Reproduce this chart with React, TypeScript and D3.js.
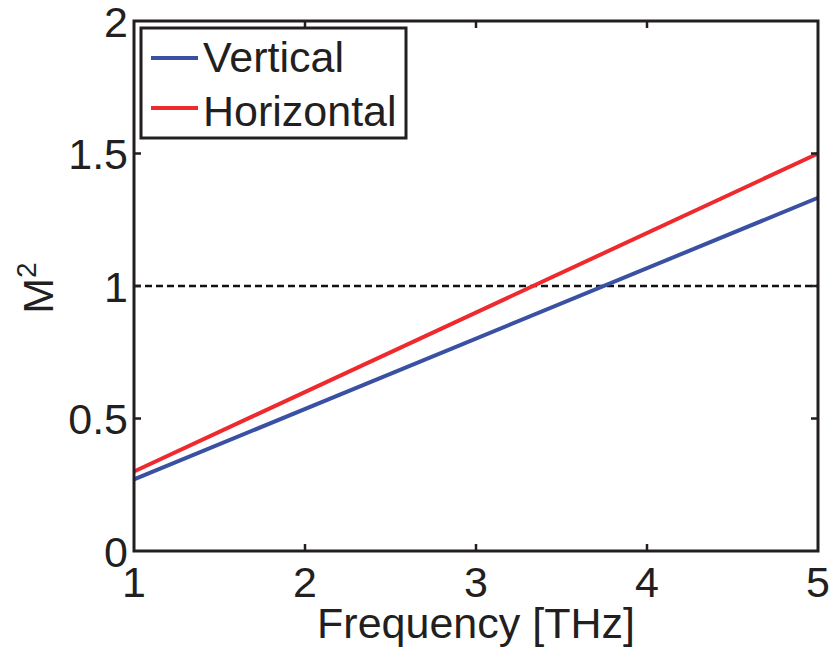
import React from "react";
import * as d3 from "d3";

const freq = [1, 5];
const vertical = [0.27, 1.333];
const horizontal = [0.3, 1.5];
const xTicks = [1, 2, 3, 4, 5];
const yTicks = [0, 0.5, 1, 1.5, 2];
const yTickLabels = ["0", "0.5", "1", "1.5", "2"];
const seriesNames = ["Vertical", "Horizontal"];
const seriesColors = ["#3a51a3", "#ee2a2e"];

const W = 829, H = 648;
const L = 134, R = 818, T = 21, B = 551;
const FONT = "'Liberation Sans', Arial, Helvetica, sans-serif";
const FS = 43;

export default function App() {
  const x = d3.scaleLinear().domain([1, 5]).range([L, R]);
  const y = d3.scaleLinear().domain([0, 2]).range([B, T]);
  const line = d3.line<[number, number]>().x(d => x(d[0])).y(d => y(d[1]));
  const series = [vertical, horizontal];
  const tl = 7;
  return (
    <svg width={W} height={H} style={{ position: "absolute", left: 0, top: 0, background: "#fff" }} fontFamily={FONT}>
      <rect x={0} y={0} width={W} height={H} fill="#fff" />
      <line x1={x(1)} x2={x(5)} y1={y(1)} y2={y(1)} stroke="#111" strokeWidth={2.5} strokeDasharray="7,4" />
      {series.map((s, i) => (
        <path key={i} d={line(freq.map((f, j) => [f, s[j]]) as [number, number][]) || ""} fill="none" stroke={seriesColors[i]} strokeWidth={4} />
      ))}
      {xTicks.slice(1, -1).map(t => (
        <g key={"xt" + t}>
          <line x1={x(t)} x2={x(t)} y1={B} y2={B - tl} stroke="#231f20" strokeWidth={2.5} />
          <line x1={x(t)} x2={x(t)} y1={T} y2={T + tl} stroke="#231f20" strokeWidth={2.5} />
        </g>
      ))}
      {yTicks.slice(1, -1).map(t => (
        <g key={"yt" + t}>
          <line x1={L} x2={L + tl} y1={y(t)} y2={y(t)} stroke="#231f20" strokeWidth={2.5} />
          <line x1={R} x2={R - tl} y1={y(t)} y2={y(t)} stroke="#231f20" strokeWidth={2.5} />
        </g>
      ))}
      <rect x={L} y={T} width={R - L} height={B - T} fill="none" stroke="#231f20" strokeWidth={3} />
      {xTicks.map(t => (
        <text key={"xl" + t} x={x(t)} y={597} textAnchor="middle" fontSize={FS} fill="#231f20">{t}</text>
      ))}
      {yTicks.map((t, i) => (
        <text key={"yl" + t} x={128} y={y(t) + 15.5} textAnchor="end" fontSize={FS} fill="#231f20">{yTickLabels[i]}</text>
      ))}
      <text x={476} y={638} textAnchor="middle" fontSize={FS} fill="#231f20">Frequency [THz]</text>
      <text transform="translate(53,288) rotate(-90)" textAnchor="middle" fontSize={FS} fill="#231f20">
        M<tspan fontSize={28} dy={-17}>2</tspan>
      </text>
      <rect x={141} y={28} width={265} height={110} fill="#fff" stroke="#231f20" strokeWidth={3} />
      {seriesNames.map((n, i) => (
        <g key={n}>
          <line x1={151} x2={198} y1={58 + i * 50} y2={58 + i * 50} stroke={seriesColors[i]} strokeWidth={4} />
          <text x={203} y={72 + i * 54} fontSize={FS} fill="#231f20">{n}</text>
        </g>
      ))}
    </svg>
  );
}
